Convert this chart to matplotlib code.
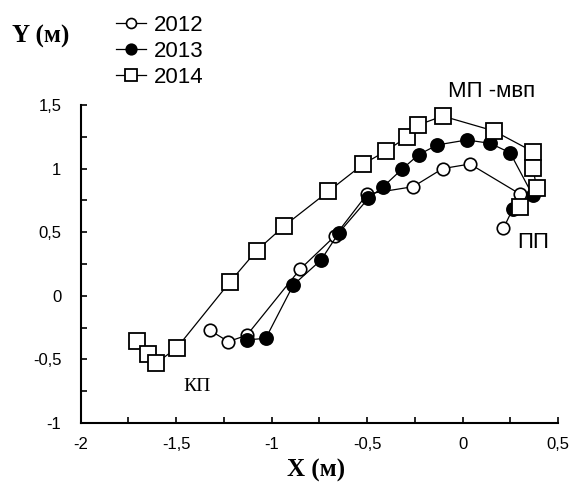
import matplotlib
matplotlib.use("Agg")
import matplotlib.pyplot as plt
from matplotlib.ticker import MultipleLocator, FuncFormatter

# Data
x2012 = [-1.325, -1.227, -1.13, -0.852, -0.669, -0.50, -0.259, -0.105, 0.038, 0.30, 0.213]
y2012 = [-0.27, -0.36, -0.31, 0.208, 0.47, 0.80, 0.858, 1.00, 1.036, 0.80, 0.53]

x2013 = [-1.131, -1.031, -0.887, -0.742, -0.648, -0.494, -0.416, -0.319, -0.230, -0.133, 0.021, 0.143, 0.248, 0.366, 0.262]
y2013 = [-0.347, -0.334, 0.085, 0.281, 0.496, 0.766, 0.858, 0.994, 1.110, 1.186, 1.225, 1.199, 1.125, 0.792, 0.68]

x2014 = [-1.705, -1.648, -1.606, -1.497, -1.218, -1.079, -0.934, -0.704, -0.52, -0.40, -0.29, -0.233, -0.105, 0.164, 0.368, 0.368, 0.387, 0.30]
y2014 = [-0.355, -0.46, -0.53, -0.41, 0.11, 0.355, 0.55, 0.82, 1.036, 1.14, 1.25, 1.343, 1.413, 1.296, 1.133, 1.007, 0.847, 0.70]

labels = ["2012", "2013", "2014"]
x_ticks = [-2, -1.5, -1, -0.5, 0, 0.5]
y_ticks = [-1, -0.5, 0, 0.5, 1, 1.5]

plt.rcParams['font.family'] = ['Liberation Sans', 'DejaVu Sans']

fig = plt.figure(figsize=(5.72, 5.04), dpi=100)
ax = fig.add_axes([80.7/572, 81/504, (558.2-80.7)/572, (423-105)/504])

lw = 0.9
h1, = ax.plot(x2012, y2012, '-', color='black', lw=lw, marker='o', ms=9,
              mfc='white', mec='black', mew=1.2, label=labels[0], zorder=3)
h2, = ax.plot(x2013, y2013, '-', color='black', lw=lw, marker='o', ms=9.5,
              mfc='black', mec='black', mew=1.2, label=labels[1], zorder=4)
h3, = ax.plot(x2014, y2014, '-', color='black', lw=lw, marker='s', ms=11,
              mfc='white', mec='black', mew=1.3, label=labels[2], zorder=5)

ax.set_xlim(-2, 0.5)
ax.set_ylim(-1, 1.5)
ax.set_xticks(x_ticks)
ax.set_yticks(y_ticks)
ax.xaxis.set_minor_locator(MultipleLocator(0.25))
ax.yaxis.set_minor_locator(MultipleLocator(0.25))

def fmt(v, pos):
    if abs(v) < 1e-9:
        return "0"
    return ("%g" % v).replace('.', ',')

ax.xaxis.set_major_formatter(FuncFormatter(fmt))
ax.yaxis.set_major_formatter(FuncFormatter(fmt))
ax.tick_params(which='both', direction='in', length=4, width=1.2, labelsize=12)
ax.tick_params(axis='x', which='major', pad=10)
ax.tick_params(axis='y', which='major', pad=14)
for s in ['top', 'right']:
    ax.spines[s].set_visible(False)
for s in ['left', 'bottom']:
    ax.spines[s].set_linewidth(1.5)

fig.text(12/572, 1 - 36/504, "Y (м)", family='Liberation Serif', fontsize=18,
         fontweight='bold', va='center', ha='left')
fig.text(316/572, 1 - 470/504, "X (м)", family='Liberation Serif', fontsize=18,
         fontweight='bold', va='center', ha='center')

ax.text(0.15, 1.61, "МП -мвп", fontsize=16, ha='center', va='center')
ax.text(0.37, 0.42, "ПП", fontsize=16, ha='center', va='center')
ax.text(-1.39, -0.71, "КП", family='Liberation Serif', fontsize=14, ha='center', va='center')

fig.legend(handles=[h1, h2, h3], labels=labels, loc='upper left',
           bbox_to_anchor=(116/572, 1 - 15/504), frameon=False, fontsize=16,
           handlelength=1.35, handletextpad=0.35, labelspacing=0.22,
           borderaxespad=0, borderpad=0, markerscale=0.8)

fig.savefig("out.png", dpi=100)
